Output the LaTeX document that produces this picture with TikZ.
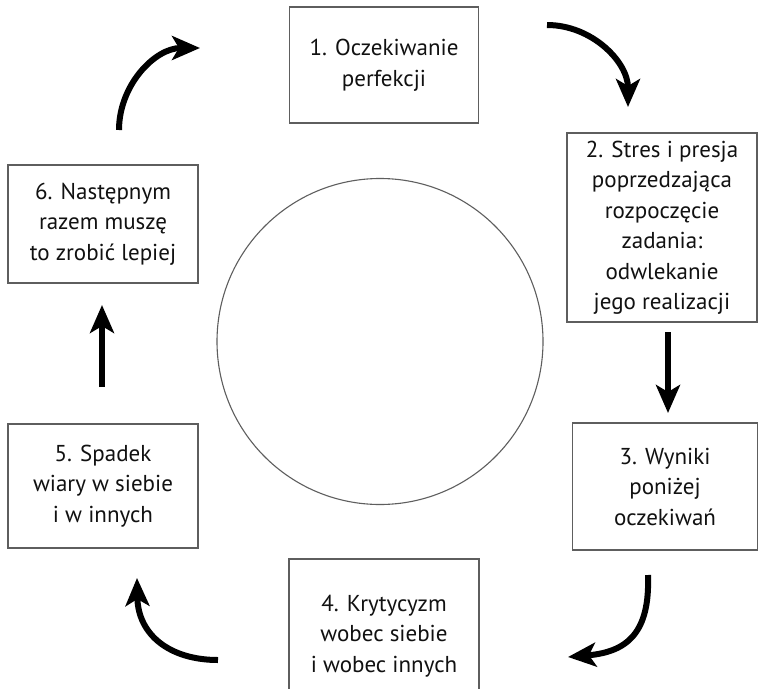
\documentclass[tikz,border=0pt]{standalone}
\usepackage{fontspec}
\setmainfont{PT Sans}
\usetikzlibrary{arrows.meta}
\definecolor{boxline}{HTML}{5E5E5E}
\definecolor{txt}{HTML}{111111}
\tikzset{
  stepbox/.style={draw=boxline, line width=1.3pt, rectangle, align=center,
    text=txt, font=\fontsize{23}{30.5}\selectfont, inner sep=0pt},
  bigarrow/.style={draw=black, line width=6pt,
    -{Stealth[length=28pt,width=24pt,inset=7pt]}},
}
\begin{document}
\begin{tikzpicture}[x=1pt,y=-1pt]
\useasboundingbox (0,0) rectangle (760,688);
\clip (0,0) rectangle (760,688);
\fill[white] (0,0) rectangle (760,688);

\node[stepbox, minimum width=189pt, minimum height=116pt] (b1) at (384,65)
  {1. Oczekiwanie\\perfekcji};
\node[stepbox, minimum width=190pt, minimum height=189pt] (b2) at (662,227.5)
  {2. Stres i presja\\poprzedzająca\\rozpoczęcie\\zadania:\\odwlekanie\\jego realizacji};
\node[stepbox, minimum width=185pt, minimum height=127pt] (b3) at (665,486.5)
  {3. Wyniki\\poniżej\\oczekiwań};
\node[stepbox, minimum width=190pt, minimum height=154pt] (b4) at (384,636)
  {4. Krytycyzm\\wobec siebie\\i wobec innych};
\node[stepbox, minimum width=190pt, minimum height=124pt] (b5) at (103,486)
  {5. Spadek\\wiary w siebie\\i w innych};
\node[stepbox, minimum width=190pt, minimum height=118pt] (b6) at (103,224)
  {6. Następnym\\razem muszę\\to zrobić lepiej};

\node[draw=boxline, line width=1.1pt, circle, minimum size=326pt, inner sep=0pt] (c) at (380,341.5) {};

% arrow end points
\coordinate (a1s) at (547,25);   \coordinate (a1e) at (628,107);
\coordinate (a2s) at (668,332);  \coordinate (a2e) at (668,413);
\coordinate (a3s) at (648,575);  \coordinate (a3e) at (568,657);
\coordinate (a4s) at (218,660);  \coordinate (a4e) at (137,578);
\coordinate (a5s) at (102,387);  \coordinate (a5e) at (102,305);
\coordinate (a6s) at (119,130);  \coordinate (a6e) at (200,48);

\draw[bigarrow] (a1s) .. controls (592,25) and (628,62) .. (a1e);
\draw[bigarrow] (a2s) -- (a2e);
\draw[bigarrow] (a3s) .. controls (650,632) and (628,652) .. (a3e);
\draw[bigarrow] (a4s) .. controls (170,660) and (138,635) .. (a4e);
\draw[bigarrow] (a5s) -- (a5e);
\draw[bigarrow] (a6s) .. controls (119,85) and (155,48) .. (a6e);
\end{tikzpicture}
\end{document}
